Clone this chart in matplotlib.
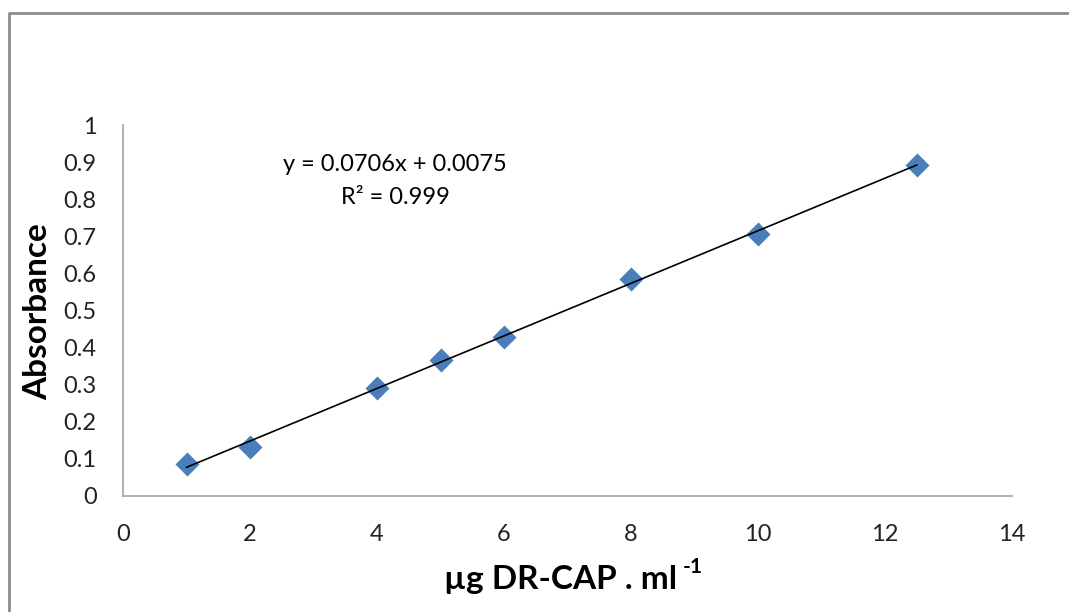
import numpy as np
import matplotlib.pyplot as plt
from matplotlib.lines import Line2D

# concentration (ug/ml) and absorbance
conc = [1, 2, 4, 5, 6, 8, 10, 12.5]
absorb = [0.086, 0.132, 0.291, 0.367, 0.429, 0.585, 0.706, 0.892]
eq_text = "y = 0.0706x + 0.0075"
r2_text = "R² = 0.999"
xticks = [0, 2, 4, 6, 8, 10, 12, 14]
yticks = [0, 0.1, 0.2, 0.3, 0.4, 0.5, 0.6, 0.7, 0.8, 0.9, 1]
ytick_labels = ['0', '0.1', '0.2', '0.3', '0.4', '0.5', '0.6', '0.7', '0.8', '0.9', '1']

plt.rcParams['font.family'] = ['Lato', 'DejaVu Sans']

W, H = 1069, 612
fig = plt.figure(figsize=(W / 100, H / 100), dpi=100)
ax = fig.add_axes([123 / W, 1 - 496 / H, (1012 - 123) / W, (496 - 125) / H])

# outer chart border, only left and top edges are in frame
bx, by = 8.5 / W, 1 - 13 / H
fig.add_artist(Line2D([bx, bx, 1.01], [-0.01, by, by], transform=fig.transFigure,
                      color='#8c8c8c', linewidth=2))

ax.scatter(conc, absorb, marker='D', s=150, color='#4a7ebb', zorder=3, linewidths=0)

m, b = np.polyfit(conc, absorb, 1)
xs = np.array([min(conc), max(conc)])
ax.plot(xs, m * xs + b, color='black', linewidth=1.2, zorder=4)

ax.set_xlim(0, 14)
ax.set_ylim(0, 1)
ax.set_xticks(xticks)
ax.set_yticks(yticks)
ax.set_xticklabels([str(t) for t in xticks])
ax.set_yticklabels(ytick_labels)
ax.tick_params(length=0, labelsize=17, colors='#222222')
ax.tick_params(axis='x', pad=20)
ax.tick_params(axis='y', pad=19)

for s in ['top', 'right']:
    ax.spines[s].set_visible(False)
for s in ['left', 'bottom']:
    ax.spines[s].set_color('#aaaaaa')
    ax.spines[s].set_linewidth(1.3)

# axis titles
fig.text(38 / W, 1 - 312 / H, 'Absorbance', rotation=90, ha='center', va='center',
         fontsize=24, fontweight='bold')
fig.text(677 / W, 1 - 580 / H, 'µg DR-CAP . ml', ha='right', va='center',
         fontsize=24, fontweight='bold')
fig.text(683 / W, 1 - 567 / H, '-1', ha='left', va='center',
         fontsize=15, fontweight='bold')

# trendline label
fig.text(395 / W, 1 - 165 / H, eq_text, ha='center', va='center', fontsize=17)
fig.text(395 / W, 1 - 197 / H, r2_text, ha='center', va='center', fontsize=17)

fig.savefig('out.png', dpi=100)
